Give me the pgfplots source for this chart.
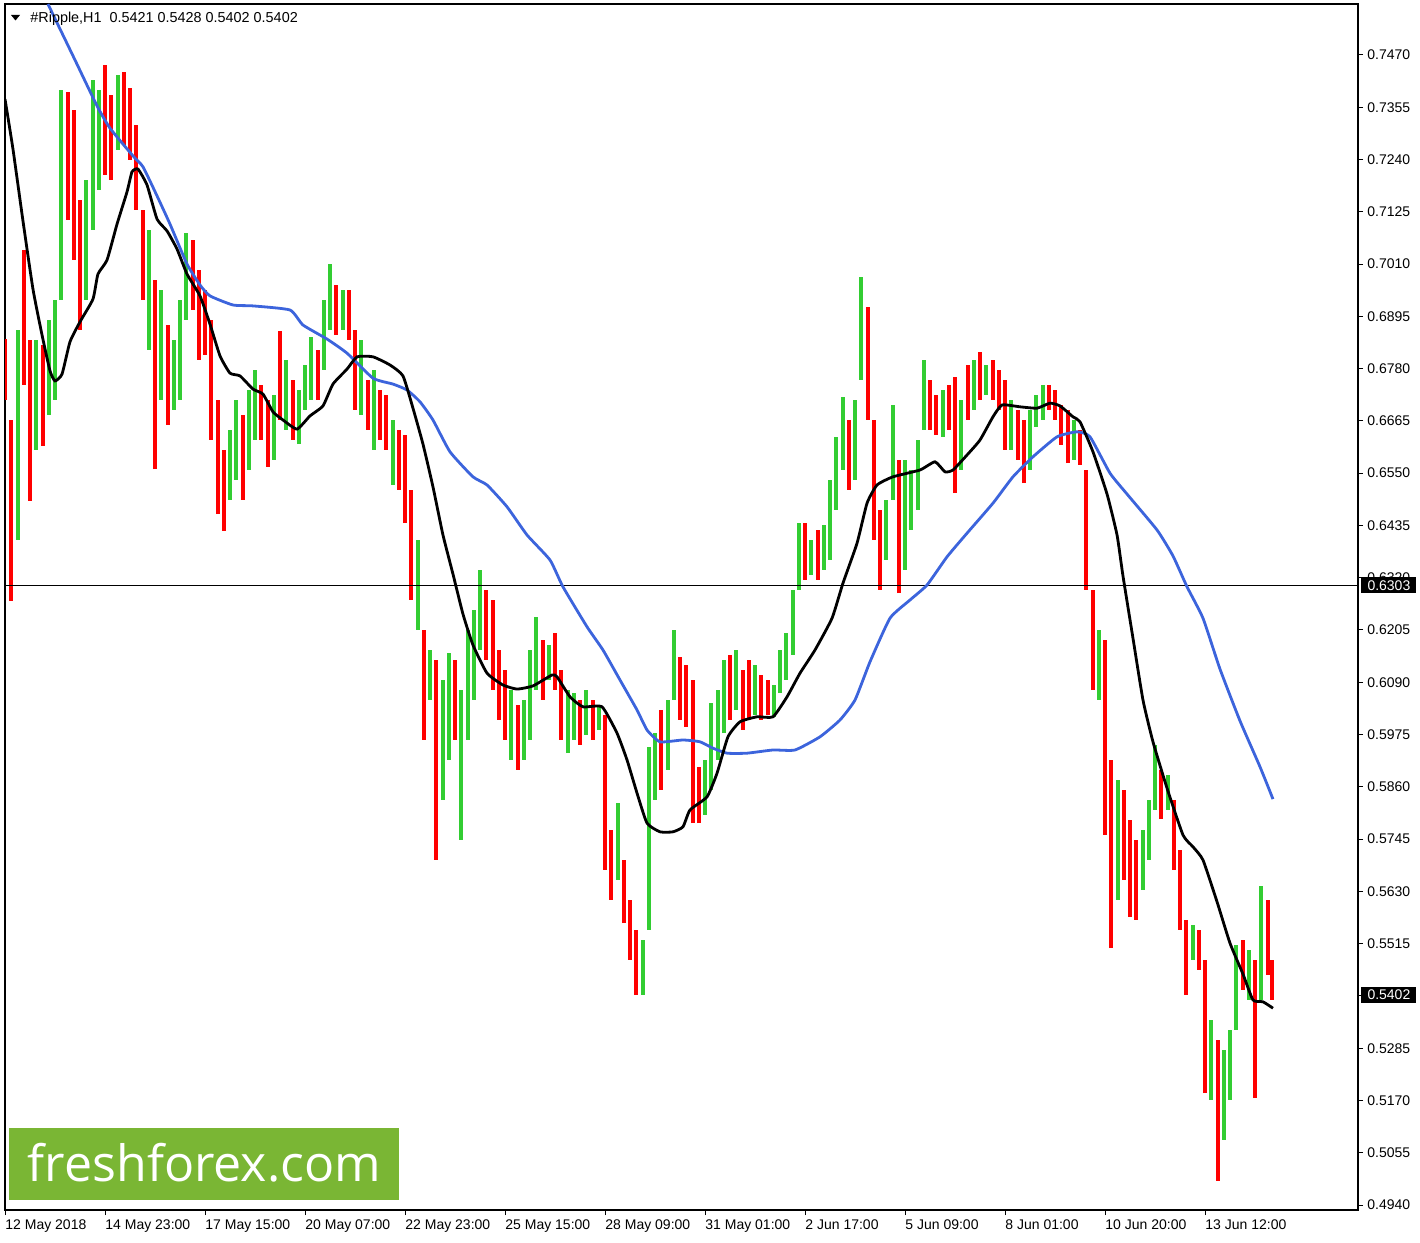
\documentclass[border=0pt]{standalone}
\usepackage{fontspec}
\setmainfont{Liberation Sans}
\newfontfamily\logofont{Open Sans}
\usepackage{graphicx}
\usepackage{pgfplots}
\pgfplotsset{compat=1.18}
\usepackage{pgfplotstable}

\definecolor{bull}{RGB}{50,205,50}
\definecolor{bear}{RGB}{255,0,0}
\definecolor{maslow}{RGB}{60,100,220}
\definecolor{logogreen}{RGB}{122,182,52}

% H4-sized candles: hour, low, high
\pgfplotstableread{
h lo hi
8 0.6403 0.6865
20 0.6601 0.6843
28 0.6678 0.6887
32 0.6711 0.6931
36 0.6931 0.7393
52 0.6931 0.7195
56 0.7085 0.7415
60 0.7173 0.7393
72 0.7261 0.7426
92 0.6821 0.7085
100 0.6711 0.6953
108 0.6689 0.6843
112 0.6711 0.6931
116 0.6887 0.7078
144 0.6491 0.6645
148 0.6535 0.6711
156 0.6557 0.6733
160 0.6623 0.6777
172 0.6579 0.6722
180 0.6645 0.6799
188 0.6614 0.6733
192 0.6689 0.6788
196 0.6711 0.6850
204 0.6777 0.6931
208 0.6865 0.7010
216 0.6865 0.6953
228 0.6678 0.6843
236 0.6601 0.6777
248 0.6524 0.6667
264 0.6205 0.6403
272 0.6051 0.6161
280 0.5831 0.6095
284 0.5919 0.6154
292 0.5743 0.6073
296 0.5963 0.6205
300 0.6051 0.6249
304 0.6161 0.6337
324 0.5919 0.6073
332 0.5919 0.6051
336 0.5963 0.6161
340 0.6073 0.6234
348 0.6095 0.6172
360 0.5934 0.6073
364 0.5963 0.6066
372 0.5974 0.6073
380 0.5985 0.6040
392 0.5655 0.5824
408 0.5402 0.5523
412 0.5545 0.5948
416 0.5831 0.5978
424 0.5897 0.6051
428 0.6051 0.6205
448 0.5798 0.5919
452 0.5853 0.6044
456 0.5919 0.6073
460 0.5978 0.6139
468 0.6029 0.6161
480 0.6018 0.6128
492 0.6014 0.6084
496 0.6066 0.6161
500 0.6095 0.6198
504 0.6150 0.6293
508 0.6293 0.6440
516 0.6326 0.6403
524 0.6337 0.6436
528 0.6359 0.6535
532 0.6469 0.6630
536 0.6557 0.6718
544 0.6535 0.6711
548 0.6755 0.6982
564 0.6359 0.6491
568 0.6491 0.6700
576 0.6337 0.6579
580 0.6425 0.6557
584 0.6469 0.6623
588 0.6645 0.6799
600 0.6630 0.6733
612 0.6557 0.6711
620 0.6689 0.6799
628 0.6722 0.6788
644 0.6601 0.6711
656 0.6557 0.6689
660 0.6652 0.6722
664 0.6667 0.6744
684 0.6579 0.6667
700 0.6051 0.6205
712 0.5611 0.5875
728 0.5633 0.5765
732 0.5699 0.5831
736 0.5809 0.5952
744 0.5809 0.5886
760 0.5479 0.5556
772 0.5171 0.5347
780 0.5083 0.5281
784 0.5171 0.5325
788 0.5325 0.5512
796 0.5391 0.5501
804 0.5391 0.5642
}\bulltab

\pgfplotstableread{
h lo hi
0 0.6711 0.6845
4 0.6269 0.6667
12 0.6744 0.7041
16 0.6489 0.6843
24 0.6610 0.6832
40 0.7107 0.7389
44 0.7019 0.7349
48 0.6865 0.7151
64 0.7206 0.7448
68 0.7195 0.7382
76 0.7272 0.7433
80 0.7239 0.7397
84 0.7129 0.7316
88 0.6931 0.7129
96 0.6559 0.6975
104 0.6656 0.6876
120 0.6909 0.7063
124 0.6799 0.6997
128 0.6810 0.6953
132 0.6623 0.6887
136 0.6460 0.6711
140 0.6423 0.6601
152 0.6491 0.6678
164 0.6623 0.6744
168 0.6564 0.6711
176 0.6667 0.6863
184 0.6623 0.6755
200 0.6711 0.6821
212 0.6854 0.6964
220 0.6843 0.6953
224 0.6689 0.6865
232 0.6645 0.6755
240 0.6623 0.6733
244 0.6601 0.6722
252 0.6513 0.6645
256 0.6440 0.6634
260 0.6271 0.6513
268 0.5963 0.6205
276 0.5699 0.6139
288 0.5963 0.6139
308 0.6139 0.6293
312 0.6073 0.6271
316 0.6007 0.6161
320 0.5963 0.6117
328 0.5897 0.6040
344 0.6051 0.6183
352 0.6073 0.6198
356 0.5963 0.6117
368 0.5952 0.6051
376 0.5963 0.6051
384 0.5677 0.6018
388 0.5611 0.5765
396 0.5560 0.5699
400 0.5479 0.5611
404 0.5402 0.5545
420 0.5853 0.6029
432 0.6007 0.6146
436 0.5992 0.6128
440 0.5780 0.6095
444 0.5780 0.5904
464 0.6007 0.6150
472 0.5985 0.6117
476 0.6007 0.6139
484 0.6007 0.6106
488 0.6018 0.6095
512 0.6315 0.6440
520 0.6315 0.6425
540 0.6513 0.6667
552 0.6667 0.6916
556 0.6403 0.6667
560 0.6293 0.6469
572 0.6286 0.6579
592 0.6645 0.6755
596 0.6634 0.6722
604 0.6645 0.6744
608 0.6506 0.6762
616 0.6667 0.6788
624 0.6711 0.6817
632 0.6711 0.6799
636 0.6689 0.6777
640 0.6601 0.6755
648 0.6579 0.6689
652 0.6528 0.6667
668 0.6689 0.6744
672 0.6667 0.6733
676 0.6612 0.6700
680 0.6572 0.6689
688 0.6568 0.6645
692 0.6293 0.6557
696 0.6073 0.6293
704 0.5754 0.6183
708 0.5505 0.5919
716 0.5655 0.5853
720 0.5574 0.5787
724 0.5567 0.5743
740 0.5789 0.5897
748 0.5677 0.5831
752 0.5545 0.5721
756 0.5402 0.5567
764 0.5457 0.5545
768 0.5186 0.5479
776 0.4993 0.5303
792 0.5413 0.5523
800 0.5175 0.5479
808 0.5446 0.5611
811 0.5391 0.5479
}\beartab

% fast moving average (black)
\pgfplotstableread{
h ma
0 0.7373
5.1 0.7263
11.5 0.7105
17.9 0.6955
23.7 0.6854
28.8 0.6775
32 0.6753
36.5 0.6768
41.6 0.6839
48 0.6883
56.3 0.6933
59.5 0.6988
65.3 0.7019
71.7 0.7098
78.1 0.7169
81.3 0.7213
85.1 0.7219
90.9 0.7184
97.3 0.7109
103.7 0.7083
110.1 0.7043
116.5 0.6988
124.8 0.6940
131.2 0.6878
137.6 0.6808
144 0.6770
150.4 0.6764
158.7 0.6735
165.1 0.6724
171.5 0.6685
177.9 0.6667
186.9 0.6647
195.2 0.6676
203.5 0.6698
209.9 0.6746
218.9 0.6779
225.3 0.6806
235.5 0.6806
246.4 0.6788
254.7 0.6764
261.1 0.6693
267.5 0.6614
273.9 0.6520
280.3 0.6414
286.7 0.6328
293.1 0.6240
299.5 0.6172
308.5 0.6110
318.7 0.6084
327.7 0.6075
337.9 0.6082
350.1 0.6106
353.3 0.6102
361.6 0.6058
369.9 0.6036
382.1 0.6036
391.7 0.5978
398.1 0.5919
404.5 0.5846
410.9 0.5780
419.2 0.5761
427.5 0.5761
433.9 0.5772
438.4 0.5809
449.3 0.5838
455.7 0.5890
462.7 0.5970
470.4 0.6003
481.3 0.6014
491.5 0.6014
500.5 0.6058
508.8 0.6110
518.4 0.6161
529.3 0.6231
536.3 0.6308
545.3 0.6396
551.7 0.6484
558.1 0.6524
568.3 0.6542
585.6 0.6557
595.2 0.6575
601.6 0.6553
606.7 0.6557
615.7 0.6590
624 0.6623
632.3 0.6674
638.1 0.6700
649.6 0.6696
660.5 0.6693
668.8 0.6704
675.2 0.6698
683.5 0.6674
688 0.6663
696.3 0.6597
705.3 0.6504
711.7 0.6414
715.5 0.6324
721.9 0.6187
728.3 0.6051
734.7 0.5959
743.7 0.5857
753.9 0.5754
760.3 0.5728
766.7 0.5699
775.7 0.5607
784 0.5516
792.3 0.5448
798.7 0.5391
805.1 0.5387
811.5 0.5373
}\fastma

% slow moving average (blue)
\pgfplotstableread{
h ma
27.5 0.7582
44.8 0.7459
58.9 0.7358
67.2 0.7309
81.9 0.7248
88.3 0.7224
97.3 0.7160
105.6 0.7098
116.5 0.7010
124.8 0.6964
131.2 0.6940
145.9 0.6920
158.7 0.6918
182.4 0.6909
190.7 0.6876
206.1 0.6845
218.9 0.6814
235.5 0.6759
248.3 0.6746
257.3 0.6733
265.6 0.6707
273.9 0.6667
284.8 0.6597
299.5 0.6542
308.5 0.6524
321.3 0.6476
334.1 0.6414
348.8 0.6359
357.1 0.6300
372.5 0.6212
382.7 0.6161
393.6 0.6095
404.5 0.6029
410.9 0.5985
419.2 0.5959
433.9 0.5963
444.8 0.5959
453.1 0.5945
462.1 0.5934
474.9 0.5934
491.5 0.5941
505.6 0.5941
521.6 0.5970
534.4 0.6007
544 0.6051
553.6 0.6135
566.4 0.6231
579.2 0.6271
590.1 0.6304
602.9 0.6366
615.7 0.6418
632.3 0.6484
645.1 0.6542
657.9 0.6586
673.3 0.6630
686.1 0.6641
694.4 0.6630
707.2 0.6550
718.1 0.6504
737.3 0.6425
747.5 0.6368
756.5 0.6300
766.7 0.6231
777.6 0.6119
790.4 0.6005
803.2 0.5904
811.5 0.5833
}\slowma

\begin{document}
\begin{tikzpicture}
\useasboundingbox (-2.5pt,-16.5pt) rectangle (707.5pt,605pt);
\begin{axis}[
    name=ax,
    scale only axis,
    width=676.5pt, height=603pt,
    xmin=0, xmax=865.92,
    ymin=0.4929, ymax=0.75822,
    axis line style={black, line width=0.6pt},
    tick style={black, line width=0.5pt},
    major tick length=2.5pt,
    tick align=outside,
    xtick pos=bottom,
    ytick pos=right,
    yticklabel pos=right,
    xtick={0,64,128,192,256,320,384,448,512,576,640,704,768},
    xticklabels={12 May 2018, 14 May 23:00, 17 May 15:00, 20 May 07:00,
      22 May 23:00, 25 May 15:00, 28 May 09:00, 31 May 01:00, 2 Jun 17:00,
      5 Jun 09:00, 8 Jun 01:00, 10 Jun 20:00, 13 Jun 12:00},
    ytick={0.4940,0.5055,0.5170,0.5285,0.5400,0.5515,0.5630,0.5745,0.5860,
      0.5975,0.6090,0.6205,0.6320,0.6435,0.6550,0.6665,0.6780,0.6895,
      0.7010,0.7125,0.7240,0.7355,0.7470},
    yticklabels={0.4940,0.5055,0.5170,0.5285,0.5400,0.5515,0.5630,0.5745,0.5860,
      0.5975,0.6090,0.6205,0.6320,0.6435,0.6550,0.6665,0.6780,0.6895,
      0.7010,0.7125,0.7240,0.7355,0.7470},
    xticklabel style={font=\fontsize{7}{8}\selectfont, anchor=north west,
      inner sep=0pt, yshift=-2pt},
    yticklabel style={font=\fontsize{7}{8}\selectfont, anchor=west,
      inner sep=0pt, xshift=2pt},
    clip mode=individual,
]

\addplot[draw=none, mark=none, forget plot,
  error bars/.cd, y dir=plus, y explicit, error mark=none,
  error bar style={draw=bull, line width=2pt}]
  table[x=h, y=lo, y error expr=\thisrow{hi}-\thisrow{lo}] {\bulltab};

\addplot[draw=none, mark=none, forget plot,
  error bars/.cd, y dir=plus, y explicit, error mark=none,
  error bar style={draw=bear, line width=2pt}]
  table[x=h, y=lo, y error expr=\thisrow{hi}-\thisrow{lo}] {\beartab};

\addplot[black, line width=0.6pt] coordinates {(0,0.6303) (865.92,0.6303)};

\addplot[maslow, line width=1.4pt, smooth, tension=0.3] table[x=h, y=ma] {\slowma};
\addplot[black, line width=1.4pt, smooth, tension=0.3] table[x=h, y=ma] {\fastma};

\node[fill=black, text=white, anchor=west, inner sep=0pt,
  minimum width=27.5pt, minimum height=8pt, font=\fontsize{7}{8}\selectfont]
  at (axis cs:865.92,0.6303) [xshift=1.5pt] {0.6303};
\node[fill=black, text=white, anchor=west, inner sep=0pt,
  minimum width=27.5pt, minimum height=8pt, font=\fontsize{7}{8}\selectfont]
  at (axis cs:865.92,0.5402) [xshift=1.5pt] {0.5402};
\end{axis}

% header
\fill ([shift={(3pt,-5.5pt)}]ax.north west) -- ++(4.5pt,0) -- ++(-2.25pt,-2.75pt) -- cycle;
\node[anchor=west, inner sep=0pt, font=\fontsize{7.2}{8}\selectfont]
  at ([shift={(12.5pt,-7.5pt)}]ax.north west)
  {\#Ripple,H1\ \ 0.5421 0.5428 0.5402 0.5402};

% logo
\fill[logogreen] ([shift={(2pt,5pt)}]ax.south west) rectangle ([shift={(197pt,41pt)}]ax.south west);
\node[text=white, inner sep=0pt] at ([shift={(99.75pt,23.5pt)}]ax.south west)
  {\resizebox{176.5pt}{!}{\logofont freshforex.com}};
\end{tikzpicture}
\end{document}
